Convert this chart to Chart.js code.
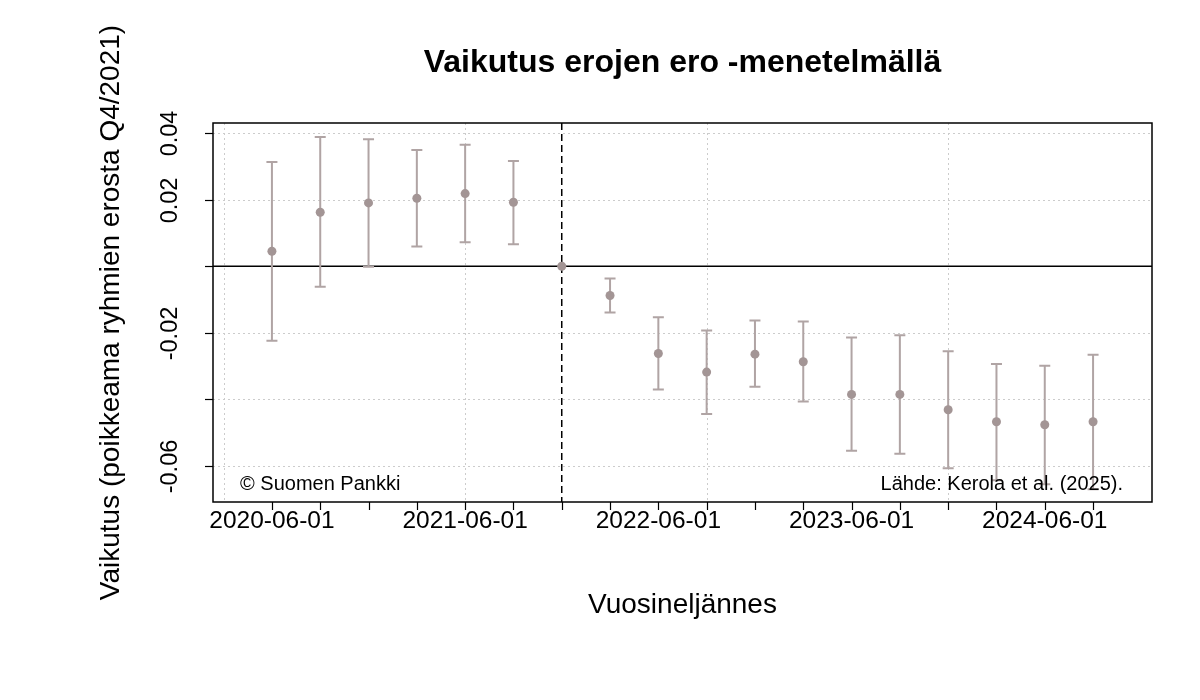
<!DOCTYPE html>
<html>
<head>
<meta charset="utf-8">
<script src="https://cdn.jsdelivr.net/npm/chart.js@4"></script>
<style>
  body { margin: 0; background: #fff; }
  #wrap { width: 1200px; height: 700px; }
</style>
</head>
<body>
<div id="wrap"><canvas id="myChart" width="1200" height="700"></canvas></div>
<script>
// quarters (x), point estimates and the interval ends
const quarters = [
  '2020-06-01', '2020-09-01', '2020-12-01', '2021-03-01', '2021-06-01', '2021-09-01',
  '2021-12-01', '2022-03-01', '2022-06-01', '2022-09-01', '2022-12-01', '2023-03-01',
  '2023-06-01', '2023-09-01', '2023-12-01', '2024-03-01', '2024-06-01', '2024-09-01'
];
const estimate = [
  0.0045, 0.0162, 0.0190, 0.0204, 0.0218, 0.0192,
  0, -0.0088, -0.0262, -0.0318, -0.0264, -0.0287,
  -0.0385, -0.0385, -0.0431, -0.0467, -0.0476, -0.0467
];
const upper = [
  0.0313, 0.0388, 0.0381, 0.0349, 0.0365, 0.0316,
  0, -0.0037, -0.0153, -0.0193, -0.0163, -0.0166,
  -0.0214, -0.0207, -0.0255, -0.0294, -0.0299, -0.0266
];
const lower = [
  -0.0224, -0.0062, -0.0002, 0.0059, 0.0072, 0.0066,
  0, -0.0139, -0.0370, -0.0444, -0.0362, -0.0406,
  -0.0554, -0.0563, -0.0607, -0.0643, -0.0655, -0.0670
];
const yTicks = [-0.06, -0.04, -0.02, 0, 0.02, 0.04];
const yTickLabels = ['-0.06', '', '-0.02', '', '0.02', '0.04'];
const xGrid = [-1, 4, 9, 14];
const refQuarter = 6;

const pointColor = '#a39595';
const barColor = '#b0a4a4';
const font = '"Liberation Sans", Arial, sans-serif';

const points = [];
for (let i = 0; i < quarters.length; i++) {
  points.push({ x: i, y: estimate[i] });
}

const rPlot = {
  id: 'rPlot',
  beforeDatasetsDraw(chart) {
    const ctx = chart.ctx;
    const a = chart.chartArea;
    const xs = chart.scales.x;
    const ys = chart.scales.y;
    ctx.save();

    // dotted grid
    ctx.strokeStyle = '#cccccc';
    ctx.lineWidth = 1;
    ctx.setLineDash([2, 3]);
    for (let i = 0; i < yTicks.length; i++) {
      const y = Math.round(ys.getPixelForValue(yTicks[i])) + 0.5;
      ctx.beginPath();
      ctx.moveTo(a.left, y);
      ctx.lineTo(a.right, y);
      ctx.stroke();
    }
    for (let i = 0; i < xGrid.length; i++) {
      const x = Math.round(xs.getPixelForValue(xGrid[i])) + 0.5;
      ctx.beginPath();
      ctx.moveTo(x, a.top);
      ctx.lineTo(x, a.bottom);
      ctx.stroke();
    }

    // zero line
    ctx.setLineDash([]);
    ctx.strokeStyle = '#000';
    ctx.lineWidth = 1.5;
    const y0 = ys.getPixelForValue(0);
    ctx.beginPath();
    ctx.moveTo(a.left, y0);
    ctx.lineTo(a.right, y0);
    ctx.stroke();

    // reference quarter
    ctx.setLineDash([7, 4]);
    const xr = xs.getPixelForValue(refQuarter);
    ctx.beginPath();
    ctx.moveTo(xr, a.top);
    ctx.lineTo(xr, a.bottom);
    ctx.stroke();
    ctx.setLineDash([]);

    // error bars
    ctx.strokeStyle = barColor;
    ctx.lineWidth = 2;
    for (let i = 0; i < quarters.length; i++) {
      if (upper[i] === lower[i]) continue;
      const x = xs.getPixelForValue(i);
      const yu = ys.getPixelForValue(upper[i]);
      const yl = ys.getPixelForValue(lower[i]);
      ctx.beginPath();
      ctx.moveTo(x, yu);
      ctx.lineTo(x, yl);
      ctx.moveTo(x - 5.5, yu);
      ctx.lineTo(x + 5.5, yu);
      ctx.moveTo(x - 5.5, yl);
      ctx.lineTo(x + 5.5, yl);
      ctx.stroke();
    }
    ctx.restore();
  },
  afterDraw(chart) {
    const ctx = chart.ctx;
    const a = chart.chartArea;
    const xs = chart.scales.x;
    const ys = chart.scales.y;
    ctx.save();

    // box
    ctx.strokeStyle = '#000';
    ctx.lineWidth = 1.5;
    ctx.strokeRect(a.left, a.top, a.right - a.left, a.bottom - a.top);

    // x ticks + labels
    ctx.fillStyle = '#000';
    ctx.font = '24.5px ' + font;
    ctx.textAlign = 'center';
    ctx.textBaseline = 'middle';
    for (let i = 0; i < quarters.length; i++) {
      const x = xs.getPixelForValue(i);
      if (quarters[i].slice(5, 7) === '06') {
        ctx.fillText(quarters[i], x, a.bottom + 19);
      }
    }
    ctx.lineWidth = 1.2;
    for (let i = 0; i < quarters.length; i++) {
      const x = Math.round(xs.getPixelForValue(i)) + 0.5;
      ctx.beginPath();
      ctx.moveTo(x, a.bottom);
      ctx.lineTo(x, a.bottom + 8);
      ctx.stroke();
    }

    // y ticks + rotated labels
    ctx.font = '23.5px ' + font;
    for (let i = 0; i < yTicks.length; i++) {
      const y = Math.round(ys.getPixelForValue(yTicks[i])) + 0.5;
      ctx.beginPath();
      ctx.moveTo(a.left - 8, y);
      ctx.lineTo(a.left, y);
      ctx.stroke();
      if (yTickLabels[i]) {
        ctx.save();
        ctx.translate(a.left - 42, y);
        ctx.rotate(-Math.PI / 2);
        ctx.fillText(yTickLabels[i], 0, 0);
        ctx.restore();
      }
    }

    // titles
    const cx = (a.left + a.right) / 2;
    ctx.font = 'bold 32px ' + font;
    ctx.fillText('Vaikutus erojen ero -menetelmällä', cx, 63);
    ctx.font = '28px ' + font;
    ctx.fillText('Vuosineljännes', cx, 605);
    ctx.save();
    ctx.translate(111, (a.top + a.bottom) / 2);
    ctx.rotate(-Math.PI / 2);
    ctx.fillText('Vaikutus (poikkeama ryhmien erosta Q4/2021)', 0, 0);
    ctx.restore();

    // notes inside plot
    ctx.font = '20px ' + font;
    ctx.textAlign = 'left';
    ctx.fillText('© Suomen Pankki', a.left + 27, a.bottom - 18);
    ctx.textAlign = 'right';
    ctx.fillText('Lähde: Kerola et al. (2025).', a.right - 29, a.bottom - 18);
    ctx.restore();
  }
};

const ctx = document.getElementById('myChart').getContext('2d');
new Chart(ctx, {
  type: 'scatter',
  data: {
    datasets: [{
      data: points,
      backgroundColor: pointColor,
      borderColor: pointColor,
      pointRadius: 4.5,
      pointHoverRadius: 4.5,
      borderWidth: 0
    }]
  },
  options: {
    responsive: false,
    animation: false,
    devicePixelRatio: 1,
    layout: { padding: { left: 213, right: 48, top: 123, bottom: 198 } },
    plugins: { legend: { display: false }, tooltip: { enabled: false } },
    scales: {
      x: { type: 'linear', min: -1.22, max: 18.22, display: false },
      y: { type: 'linear', min: -0.0708, max: 0.043, display: false }
    }
  },
  plugins: [rPlot]
});
</script>
</body>
</html>
